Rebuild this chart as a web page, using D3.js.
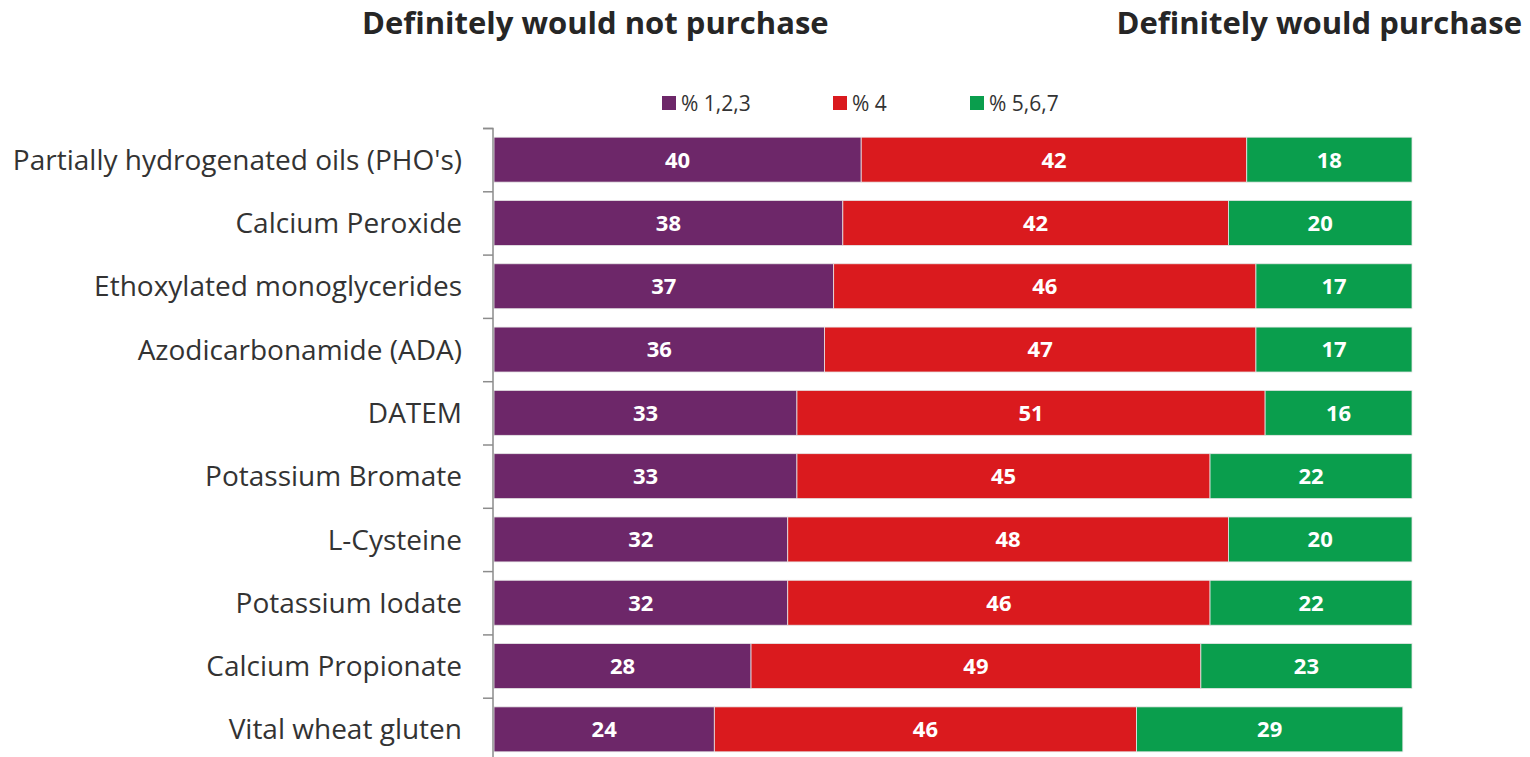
<!DOCTYPE html>
<html><head><meta charset="utf-8">
<script src="https://cdn.jsdelivr.net/npm/d3@7"></script>
<style>body{margin:0;background:#fff}svg{display:block}</style>
</head><body><svg id="c" width="1530" height="757"></svg>
<script>
const categories = ["Partially hydrogenated oils (PHO's)","Calcium Peroxide","Ethoxylated monoglycerides","Azodicarbonamide (ADA)","DATEM","Potassium Bromate","L-Cysteine","Potassium Iodate","Calcium Propionate","Vital wheat gluten"];
const seriesNames = ["% 1,2,3","% 4","% 5,6,7"];
const low = [40,38,37,36,33,33,32,32,28,24];
const mid = [42,42,46,47,51,45,48,46,49,46];
const high = [18,20,17,17,16,22,20,22,23,29];
const colors = ["#6D2769","#DA1A1E","#0A9E4D"];
const fontMain = "'Open Sans', sans-serif";

const svg = d3.select("#c");
const x = d3.scaleLinear().domain([0,100]).range([494,1412]);
const y = d3.scaleBand().domain(categories).range([128,761]).paddingInner(0.29).paddingOuter(0.145);

const rows = categories.map((c,i)=>({cat:c, vals:[low[i],mid[i],high[i]]}));
rows.forEach(r=>{
  let acc=0;
  r.vals.forEach((v,j)=>{
    const g = svg.append("g");
    g.append("rect").attr("x",x(acc)).attr("y",y(r.cat)).attr("width",x(acc+v)-x(acc)).attr("height",y.bandwidth())
      .attr("fill",colors[j]).attr("stroke","#e6e6e6").attr("stroke-width",0.8);
    g.append("text").attr("x",(x(acc)+x(acc+v))/2).attr("y",y(r.cat)+y.bandwidth()/2).attr("dy","0.36em")
      .attr("text-anchor","middle").attr("fill","#fff").attr("font-weight","bold").attr("font-size",22)
      .attr("font-family",fontMain).text(v);
    acc+=v;
  });
});

// axis
const yAxis = d3.axisLeft(d3.scalePoint().domain(d3.range(11)).range([128,761])).tickSize(10).tickFormat("");
const ga = svg.append("g").attr("transform","translate(493,0)").call(yAxis);
ga.selectAll("path,line").attr("stroke","#8c8c8c").attr("stroke-width",1.5);
ga.select("path").attr("d","M-10,128.5H0V761");

// category labels
svg.append("g").selectAll("text").data(categories).join("text")
  .attr("x",462).attr("y",d=>y(d)+y.bandwidth()/2).attr("dy","0.36em").attr("text-anchor","end")
  .attr("font-size",28).attr("fill","#333").attr("font-family",fontMain).text(d=>d);

// titles
svg.append("text").attr("x",362).attr("y",34).attr("font-size",31).attr("font-weight","bold").attr("fill","#262626")
  .attr("font-family",fontMain).text("Definitely would not purchase");
svg.append("text").attr("x",1522).attr("y",34).attr("text-anchor","end").attr("font-size",31).attr("font-weight","bold").attr("fill","#262626")
  .attr("font-family",fontMain).text("Definitely would purchase");

// legend
const legX = [662,833,970];
seriesNames.forEach((s,i)=>{
  svg.append("rect").attr("x",legX[i]).attr("y",96).attr("width",14).attr("height",14).attr("fill",colors[i]);
  svg.append("text").attr("x",legX[i]+19).attr("y",103).attr("dy","0.36em").attr("font-size",21).attr("fill","#333")
    .attr("font-family",fontMain).text(s);
});
</script></body></html>
